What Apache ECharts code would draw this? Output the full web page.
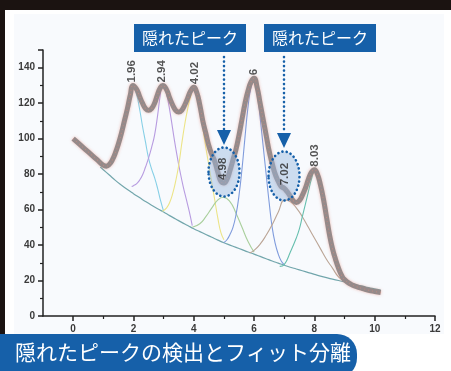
<!DOCTYPE html>
<html>
<head>
<meta charset="UTF-8">
<title>隠れたピークの検出とフィット分離</title>
<script src="https://cdn.jsdelivr.net/npm/echarts@6/dist/echarts.min.js"></script>
<style>
  html, body { margin: 0; padding: 0; background: #1b1311; }
  #main { width: 451px; height: 371px; }
</style>
</head>
<body>
<div id="main"></div>
<script>
// 測定データ (合計曲線)
var total = [[0,100],[0.2,97],[0.4,94],[0.6,91],[0.8,88],[1.0,85],[1.1,84.5],[1.2,85.5],[1.3,88],[1.4,92],
  [1.5,97],[1.6,103],[1.7,110],[1.8,117],[1.9,125],[1.98,130],[2.1,128],[2.2,124],[2.3,120],[2.4,117],
  [2.5,116],[2.6,117],[2.7,120],[2.8,125],[2.9,129],[2.97,130],[3.1,127.5],[3.2,123],[3.3,119],[3.4,116],
  [3.5,115],[3.6,116],[3.7,119],[3.8,123],[3.9,127],[4.0,129],[4.1,126],[4.2,119],[4.3,110],[4.4,103],
  [4.5,96],[4.6,91],[4.7,87],[4.8,81],[4.9,76],[5.0,75],[5.1,77],[5.2,82],[5.3,88],[5.4,94],
  [5.5,102],[5.6,111],[5.7,120],[5.8,127],[5.9,132],[6.0,134],[6.1,129],[6.2,120],[6.3,111],[6.4,102],
  [6.5,93],[6.6,86],[6.7,80],[6.8,76],[6.9,73],[7.0,72],[7.1,70],[7.2,67.5],[7.3,65],[7.4,64],
  [7.5,65],[7.6,68],[7.7,72],[7.8,77],[7.9,81],[8.0,82.5],[8.1,80],[8.2,74],[8.3,66],[8.4,56],
  [8.5,46],[8.6,38],[8.7,32],[8.8,27],[8.9,23],[9.0,20.5],[9.2,18],[9.4,16.5],[9.6,15.5],[9.8,14.5],
  [10.0,13.8],[10.2,13.2]];

// ベースライン
var baseline = [[0.9,84],[1.0,82.5],[1.2,79.5],[1.4,76.5],[1.6,73.8],[1.8,71.3],[2.0,69],[2.2,66.8],[2.4,64.6],
  [2.6,62.5],[2.8,60.5],[3.0,58.6],[3.2,56.6],[3.4,54.7],[3.6,52.8],[3.8,51],[4.0,49.2],[4.2,47.6],[4.4,46],
  [4.6,44.4],[4.8,42.8],[5.0,41.3],[5.2,40],[5.4,38.7],[5.6,37.4],[5.8,36.1],[6.0,34.9],[6.2,33.6],[6.4,32.3],
  [6.6,31],[6.8,29.8],[7.0,28.6],[7.2,27.5],[7.4,26.5],[7.6,25.5],[7.8,24.5],[8.0,23.5],[8.2,22.5],[8.4,21.6],
  [8.6,20.8],[8.8,20],[9.0,19.2],[9.2,18.4],[9.4,17.6],[9.6,16.8],[9.8,16],[10.0,15.3],[10.2,14.6]];

// 各ピーク成分
var peak196 = [[1.1,84.5],[1.3,88],[1.5,97],[1.7,110],[1.8,117],[1.9,125],[1.97,129.5],[2.1,125],[2.2,117],
  [2.3,107],[2.4,98],[2.5,89],[2.6,83],[2.7,78],[2.8,72],[2.9,65],[3.0,59]];
var peak294 = [[1.94,73],[2.0,73.5],[2.1,74.5],[2.2,76.5],[2.3,79.5],[2.4,84],[2.5,89],[2.6,95],[2.7,102],
  [2.8,113],[2.9,126],[2.96,130],[3.05,128],[3.15,121],[3.25,111],[3.35,100],[3.45,90],[3.55,81],[3.65,73],
  [3.75,66],[3.85,59],[3.95,51]];
var peak402 = [[2.96,59],[3.1,61],[3.2,64],[3.3,69],[3.4,76],[3.5,85],[3.6,97],[3.7,108],[3.8,117],[3.9,124],
  [4.0,128.5],[4.1,126],[4.2,118],[4.3,106],[4.4,95],[4.5,85],[4.6,75],[4.7,65],[4.8,55],[4.9,47],[5.0,43]];
var peak498 = [[3.95,50],[4.2,52],[4.4,56],[4.6,61],[4.8,65.5],[4.98,67],[5.2,64.5],[5.4,58],[5.6,50],[5.8,42],[6.0,36]];
var peak600 = [[5.0,41.5],[5.1,43],[5.2,46],[5.3,50],[5.4,57],[5.5,68],[5.6,83],[5.7,101],[5.8,118],[5.9,129],
  [6.0,133],[6.1,126],[6.2,112],[6.3,96],[6.4,80],[6.5,64],[6.6,50],[6.7,41],[6.8,35],[6.9,31],[7.0,29]];
var peak702 = [[5.85,35.5],[6.0,37],[6.2,40.5],[6.4,45.5],[6.6,51.5],[6.8,58.5],[7.02,65.5],[7.2,64.5],[7.4,61],
  [7.6,56],[7.8,50],[8.0,44],[8.2,38],[8.4,32],[8.6,27],[8.8,22],[9.0,19.5]];
var peak803 = [[6.85,28],[7.0,29],[7.2,36],[7.4,44],[7.5,49],[7.6,56],[7.8,70],[7.9,77],[8.02,82],[8.1,80],
  [8.2,74],[8.3,66],[8.4,56],[8.5,46],[8.6,38],[8.7,32],[8.8,27],[8.9,23.5],[9.0,21],[9.2,18.5]];

var peakX = [1.96, 2.94, 4.02, 4.98, 6, 7.02, 8.03];
var peakY = [130, 130, 129, 75, 134, 72, 82.5];
var peakLabels = ['1.96', '2.94', '4.02', '4.98', '6', '7.02', '8.03'];

var xMajor = [0, 2, 4, 6, 8, 10, 12];
var xMinor = [1, 3, 5, 7, 9, 11];

var compColors = ['#86cfe6', '#b79be0', '#ece487', '#a9cf9c', '#7f9bdc', '#bba596', '#66bfae'];
var comps = [peak196, peak294, peak402, peak498, peak600, peak702, peak803];

var series = [];
series.push({
  type: 'line', data: baseline, smooth: true, showSymbol: false, z: 2,
  lineStyle: { color: '#72a6ac', width: 1.2 }
});
comps.forEach(function (d, i) {
  series.push({
    type: 'line', data: d, smooth: true, showSymbol: false, z: 2,
    lineStyle: { color: compColors[i], width: 1.1 }
  });
});
series.push({
  type: 'line', data: total, smooth: true, showSymbol: false, z: 3,
  lineStyle: { color: '#958a8a', width: 5, shadowColor: 'rgba(225,120,100,0.5)', shadowBlur: 3 }
});
series.push({
  type: 'line', data: total, smooth: true, showSymbol: false, z: 3,
  lineStyle: { color: '#d98a7c', width: 1.2, type: [1, 3], opacity: 0.55 }
});
series.push({
  type: 'scatter', symbolSize: 0, z: 6,
  data: peakX.map(function (x, i) { return [x, peakY[i]]; }),
  label: {
    show: true, position: 'top', distance: 3, rotate: 90, align: 'left', verticalAlign: 'middle',
    color: '#2a2a2a', fontSize: 11.5, fontWeight: 'bold', fontFamily: 'Liberation Sans',
    formatter: function (p) { return peakLabels[p.dataIndex]; }
  }
});

var axisLabelStyle = { color: '#3a3a3a', fontSize: 10, fontWeight: 'bold', fontFamily: 'Liberation Sans' };

var chart = echarts.init(document.getElementById('main'));
chart.setOption({
  animation: false,
  backgroundColor: '#1b1311',
  grid: { left: 43, right: 16, top: 50, bottom: 55 },
  xAxis: [{
    type: 'value', min: -1, max: 12, interval: 1,
    axisLine: { onZero: false, lineStyle: { color: '#222', width: 1.5 } },
    axisTick: { length: 5, lineStyle: { color: '#222', width: 1.5 }, customValues: xMajor },
    axisLabel: Object.assign({ margin: 8, customValues: xMajor }, axisLabelStyle),
    splitLine: { show: false }
  }, {
    type: 'value', min: -1, max: 12, interval: 1, position: 'bottom',
    axisLine: { show: false, onZero: false },
    axisTick: { length: 3, lineStyle: { color: '#222', width: 1.2 }, customValues: xMinor },
    axisLabel: { show: false },
    splitLine: { show: false }
  }],
  yAxis: {
    type: 'value', min: 0, max: 150, interval: 20,
    axisLine: { show: true, onZero: false, lineStyle: { color: '#222', width: 1.5 } },
    axisTick: { show: true, length: 5, lineStyle: { color: '#222', width: 1.5 } },
    minorTick: { show: true, splitNumber: 2, length: 3, lineStyle: { color: '#222', width: 1.2 } },
    axisLabel: Object.assign({ margin: 8, showMaxLabel: false }, axisLabelStyle),
    splitLine: { show: false }
  },
  series: series,
  graphic: [
    { type: 'rect', z: -10, shape: { x: 5, y: 10, width: 446, height: 361 }, style: { fill: '#ffffff' } },
    { type: 'rect', z: -9, shape: { x: 14, y: 14, width: 430, height: 320 }, style: { fill: '#f8fafd' } },
    // 吹き出し
    { type: 'rect', z: 10, shape: { x: 134, y: 24, width: 112, height: 28 }, style: { fill: '#1660a9' } },
    { type: 'text', z: 11, style: { text: '隠れたピーク', x: 190, y: 38, align: 'center', verticalAlign: 'middle',
        fill: '#fff', font: '16px "Noto Sans CJK JP"' } },
    { type: 'rect', z: 10, shape: { x: 264, y: 24, width: 112, height: 28 }, style: { fill: '#1660a9' } },
    { type: 'text', z: 11, style: { text: '隠れたピーク', x: 320, y: 38, align: 'center', verticalAlign: 'middle',
        fill: '#fff', font: '16px "Noto Sans CJK JP"' } },
    { type: 'line', z: 10, shape: { x1: 224, y1: 57, x2: 224, y2: 130 },
      style: { stroke: '#1660a9', lineWidth: 2.6, lineDash: [0.1, 4.4], lineCap: 'round' } },
    { type: 'polygon', z: 10, shape: { points: [[217, 130], [231, 130], [224, 145]] }, style: { fill: '#1660a9' } },
    { type: 'line', z: 10, shape: { x1: 284, y1: 57, x2: 284, y2: 133 },
      style: { stroke: '#1660a9', lineWidth: 2.6, lineDash: [0.1, 4.4], lineCap: 'round' } },
    { type: 'polygon', z: 10, shape: { points: [[277, 133], [291, 133], [284, 148]] }, style: { fill: '#1660a9' } },
    { type: 'ellipse', z: 5, shape: { cx: 224, cy: 172, rx: 15.5, ry: 24.5 },
      style: { fill: 'rgba(150,185,222,0.45)', stroke: '#1660a9', lineWidth: 2.6, lineDash: [0.1, 4.2], lineCap: 'round' } },
    { type: 'ellipse', z: 5, shape: { cx: 284, cy: 176, rx: 15.5, ry: 24.5 },
      style: { fill: 'rgba(150,185,222,0.45)', stroke: '#1660a9', lineWidth: 2.6, lineDash: [0.1, 4.2], lineCap: 'round' } },
    // 下部タイトル
    { type: 'rect', z: 10, shape: { x: -24, y: 334, width: 381, height: 44, r: 20 }, style: { fill: '#1660a9' } },
    { type: 'text', z: 11, style: { text: '隠れたピークの検出とフィット分離', x: 15, y: 352, verticalAlign: 'middle',
        fill: '#fff', font: '21px "Noto Sans CJK JP"' } }
  ]
});
</script>
</body>
</html>
